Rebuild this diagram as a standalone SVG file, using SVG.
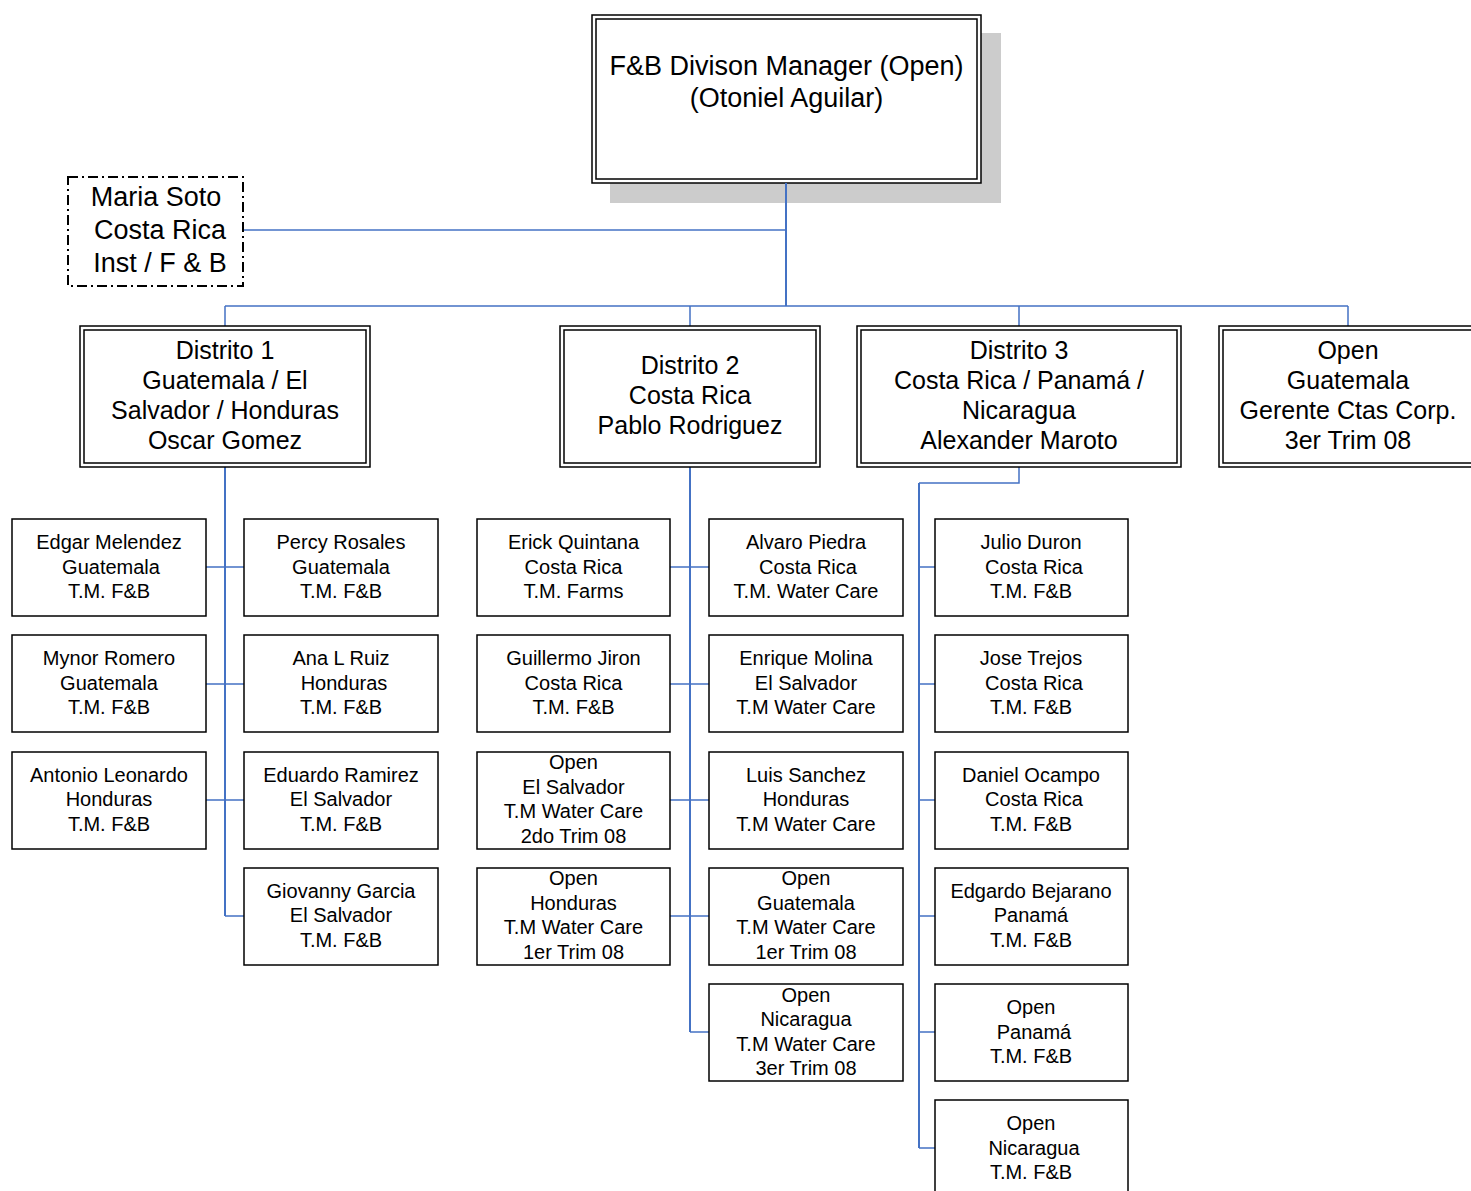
<svg xmlns="http://www.w3.org/2000/svg" width="1471" height="1191" viewBox="0 0 1471 1191">
  <style>
    text { font-family: "Liberation Sans", Arial, sans-serif; fill: #000; text-anchor: middle; }
    .top { font-size: 27px; }
    .dist { font-size: 25px; }
    .soto { font-size: 27px; }
    .emp { font-size: 20px; }
    .dbl { fill: none; stroke: #000; stroke-width: 1.5; }
    .face { fill: #fff; }
    .box { fill: #fff; stroke: #000; stroke-width: 1.5; }
    .dash { fill: #fff; stroke: #000; stroke-width: 2; stroke-dasharray: 10 4 2 4; }
    .trunk { fill: none; stroke: #4472C4; stroke-width: 2; }
    .link { fill: none; stroke: #4472C4; stroke-width: 1.5; }
  </style>

  <!-- division manager (drawn first so its shadow stays under the connectors) -->
  <g id="manager">
    <rect x="610" y="33" width="391" height="170" fill="#cccccc"/>
    <rect class="face" x="592" y="15" width="389" height="168"/>
    <rect class="dbl" x="592" y="15" width="389" height="168"/>
    <rect class="dbl" x="596" y="19" width="381" height="160"/>
    <text class="top" x="786.5" y="75">F&amp;B Divison Manager (Open)</text>
    <text class="top" x="786.5" y="107">(Otoniel Aguilar)</text>
  </g>

  <!-- connectors -->
  <g id="connectors">
    <path class="trunk" d="M786,183 V306"/>
    <path class="link" d="M243,230 H786"/>
    <path class="link" d="M225,306 H1348 M225,306 V326 M690,306 V326 M1019,306 V326 M1348,306 V326"/>
    <!-- district 1 -->
    <path class="trunk" d="M225,467 V916"/>
    <path class="link" d="M206,567 H244 M206,684 H244 M206,800 H244 M225,916 H244"/>
    <!-- district 2 -->
    <path class="trunk" d="M690,467 V1032"/>
    <path class="link" d="M670,567 H709 M670,684 H709 M670,800 H709 M670,916 H709 M690,1032 H709"/>
    <!-- district 3 -->
    <path class="link" d="M1019,467 V483 H919"/>
    <path class="trunk" d="M919,483 V1148"/>
    <path class="link" d="M919,567 H935 M919,684 H935 M919,800 H935 M919,916 H935 M919,1032 H935 M919,1148 H935"/>
  </g>

  <g id="soto">
    <rect class="dash" x="68" y="177" width="175" height="109"/>
    <text class="soto" x="156" y="206">Maria Soto</text>
    <text class="soto" x="160" y="239">Costa Rica</text>
    <text class="soto" x="160" y="272">Inst / F &amp; B</text>
  </g>

  <!-- districts -->
  <g id="distrito1">
    <rect class="face" x="80" y="326" width="290" height="141"/>
    <rect class="dbl" x="80" y="326" width="290" height="141"/>
    <rect class="dbl" x="84" y="330" width="282" height="133"/>
    <text class="dist" x="225" y="359">Distrito 1</text>
    <text class="dist" x="225" y="389">Guatemala / El</text>
    <text class="dist" x="225" y="419">Salvador / Honduras</text>
    <text class="dist" x="225" y="449">Oscar Gomez</text>
  </g>
  <g id="distrito2">
    <rect class="face" x="560" y="326" width="260" height="141"/>
    <rect class="dbl" x="560" y="326" width="260" height="141"/>
    <rect class="dbl" x="564" y="330" width="252" height="133"/>
    <text class="dist" x="690" y="374">Distrito 2</text>
    <text class="dist" x="690" y="404">Costa Rica</text>
    <text class="dist" x="690" y="434">Pablo Rodriguez</text>
  </g>
  <g id="distrito3">
    <rect class="face" x="857" y="326" width="324" height="141"/>
    <rect class="dbl" x="857" y="326" width="324" height="141"/>
    <rect class="dbl" x="861" y="330" width="316" height="133"/>
    <text class="dist" x="1019" y="359">Distrito 3</text>
    <text class="dist" x="1019" y="389">Costa Rica / Panamá /</text>
    <text class="dist" x="1019" y="419">Nicaragua</text>
    <text class="dist" x="1019" y="449">Alexander Maroto</text>
  </g>
  <g id="gerente">
    <rect class="face" x="1219" y="326" width="260" height="141"/>
    <rect class="dbl" x="1219" y="326" width="260" height="141"/>
    <rect class="dbl" x="1223" y="330" width="252" height="133"/>
    <text class="dist" x="1348" y="359">Open</text>
    <text class="dist" x="1348" y="389">Guatemala</text>
    <text class="dist" x="1348" y="419">Gerente Ctas Corp.</text>
    <text class="dist" x="1348" y="449">3er Trim 08</text>
  </g>

  <!-- district 1 staff -->
  <g id="edgar-melendez">
    <rect class="box" x="12" y="519" width="194" height="97"/>
    <text class="emp" x="109" y="549">Edgar Melendez</text>
    <text class="emp" x="111" y="574">Guatemala</text>
    <text class="emp" x="109" y="598">T.M. F&amp;B</text>
  </g>
  <g id="mynor-romero">
    <rect class="box" x="12" y="635" width="194" height="97"/>
    <text class="emp" x="109" y="665">Mynor Romero</text>
    <text class="emp" x="109" y="690">Guatemala</text>
    <text class="emp" x="109" y="714">T.M. F&amp;B</text>
  </g>
  <g id="antonio-leonardo">
    <rect class="box" x="12" y="752" width="194" height="97"/>
    <text class="emp" x="109" y="782">Antonio Leonardo</text>
    <text class="emp" x="109" y="806">Honduras</text>
    <text class="emp" x="109" y="831">T.M. F&amp;B</text>
  </g>
  <g id="percy-rosales">
    <rect class="box" x="244" y="519" width="194" height="97"/>
    <text class="emp" x="341" y="549">Percy Rosales</text>
    <text class="emp" x="341" y="574">Guatemala</text>
    <text class="emp" x="341" y="598">T.M. F&amp;B</text>
  </g>
  <g id="ana-ruiz">
    <rect class="box" x="244" y="635" width="194" height="97"/>
    <text class="emp" x="341" y="665">Ana L Ruiz</text>
    <text class="emp" x="344" y="690">Honduras</text>
    <text class="emp" x="341" y="714">T.M. F&amp;B</text>
  </g>
  <g id="eduardo-ramirez">
    <rect class="box" x="244" y="752" width="194" height="97"/>
    <text class="emp" x="341" y="782">Eduardo Ramirez</text>
    <text class="emp" x="341" y="806">El Salvador</text>
    <text class="emp" x="341" y="831">T.M. F&amp;B</text>
  </g>
  <g id="giovanny-garcia">
    <rect class="box" x="244" y="868" width="194" height="97"/>
    <text class="emp" x="341" y="898">Giovanny Garcia</text>
    <text class="emp" x="341" y="922">El Salvador</text>
    <text class="emp" x="341" y="947">T.M. F&amp;B</text>
  </g>

  <!-- district 2 staff -->
  <g id="erick-quintana">
    <rect class="box" x="477" y="519" width="193" height="97"/>
    <text class="emp" x="573.5" y="549">Erick Quintana</text>
    <text class="emp" x="573.5" y="574">Costa Rica</text>
    <text class="emp" x="573.5" y="598">T.M. Farms</text>
  </g>
  <g id="guillermo-jiron">
    <rect class="box" x="477" y="635" width="193" height="97"/>
    <text class="emp" x="573.5" y="665">Guillermo Jiron</text>
    <text class="emp" x="573.5" y="690">Costa Rica</text>
    <text class="emp" x="573.5" y="714">T.M. F&amp;B</text>
  </g>
  <g id="open-el-salvador">
    <rect class="box" x="477" y="752" width="193" height="97"/>
    <text class="emp" x="573.5" y="769">Open</text>
    <text class="emp" x="573.5" y="794">El Salvador</text>
    <text class="emp" x="573.5" y="818">T.M Water Care</text>
    <text class="emp" x="573.5" y="843">2do Trim 08</text>
  </g>
  <g id="open-honduras">
    <rect class="box" x="477" y="868" width="193" height="97"/>
    <text class="emp" x="573.5" y="885">Open</text>
    <text class="emp" x="573.5" y="910">Honduras</text>
    <text class="emp" x="573.5" y="934">T.M Water Care</text>
    <text class="emp" x="573.5" y="959">1er Trim 08</text>
  </g>
  <g id="alvaro-piedra">
    <rect class="box" x="709" y="519" width="194" height="97"/>
    <text class="emp" x="806" y="549">Alvaro Piedra</text>
    <text class="emp" x="808" y="574">Costa Rica</text>
    <text class="emp" x="806" y="598">T.M. Water Care</text>
  </g>
  <g id="enrique-molina">
    <rect class="box" x="709" y="635" width="194" height="97"/>
    <text class="emp" x="806" y="665">Enrique Molina</text>
    <text class="emp" x="806" y="690">El Salvador</text>
    <text class="emp" x="806" y="714">T.M Water Care</text>
  </g>
  <g id="luis-sanchez">
    <rect class="box" x="709" y="752" width="194" height="97"/>
    <text class="emp" x="806" y="782">Luis Sanchez</text>
    <text class="emp" x="806" y="806">Honduras</text>
    <text class="emp" x="806" y="831">T.M Water Care</text>
  </g>
  <g id="open-guatemala">
    <rect class="box" x="709" y="868" width="194" height="97"/>
    <text class="emp" x="806" y="885">Open</text>
    <text class="emp" x="806" y="910">Guatemala</text>
    <text class="emp" x="806" y="934">T.M Water Care</text>
    <text class="emp" x="806" y="959">1er Trim 08</text>
  </g>
  <g id="open-nicaragua-wc">
    <rect class="box" x="709" y="984" width="194" height="97"/>
    <text class="emp" x="806" y="1002">Open</text>
    <text class="emp" x="806" y="1026">Nicaragua</text>
    <text class="emp" x="806" y="1051">T.M Water Care</text>
    <text class="emp" x="806" y="1075">3er Trim 08</text>
  </g>

  <!-- district 3 staff -->
  <g id="julio-duron">
    <rect class="box" x="935" y="519" width="193" height="97"/>
    <text class="emp" x="1031" y="549">Julio Duron</text>
    <text class="emp" x="1034" y="574">Costa Rica</text>
    <text class="emp" x="1031" y="598">T.M. F&amp;B</text>
  </g>
  <g id="jose-trejos">
    <rect class="box" x="935" y="635" width="193" height="97"/>
    <text class="emp" x="1031" y="665">Jose Trejos</text>
    <text class="emp" x="1034" y="690">Costa Rica</text>
    <text class="emp" x="1031" y="714">T.M. F&amp;B</text>
  </g>
  <g id="daniel-ocampo">
    <rect class="box" x="935" y="752" width="193" height="97"/>
    <text class="emp" x="1031" y="782">Daniel Ocampo</text>
    <text class="emp" x="1034" y="806">Costa Rica</text>
    <text class="emp" x="1031" y="831">T.M. F&amp;B</text>
  </g>
  <g id="edgardo-bejarano">
    <rect class="box" x="935" y="868" width="193" height="97"/>
    <text class="emp" x="1031" y="898">Edgardo Bejarano</text>
    <text class="emp" x="1031" y="922">Panamá</text>
    <text class="emp" x="1031" y="947">T.M. F&amp;B</text>
  </g>
  <g id="open-panama">
    <rect class="box" x="935" y="984" width="193" height="97"/>
    <text class="emp" x="1031" y="1014">Open</text>
    <text class="emp" x="1034" y="1039">Panamá</text>
    <text class="emp" x="1031" y="1063">T.M. F&amp;B</text>
  </g>
  <g id="open-nicaragua">
    <rect class="box" x="935" y="1100" width="193" height="97"/>
    <text class="emp" x="1031" y="1130">Open</text>
    <text class="emp" x="1034" y="1155">Nicaragua</text>
    <text class="emp" x="1031" y="1179">T.M. F&amp;B</text>
  </g>
</svg>
